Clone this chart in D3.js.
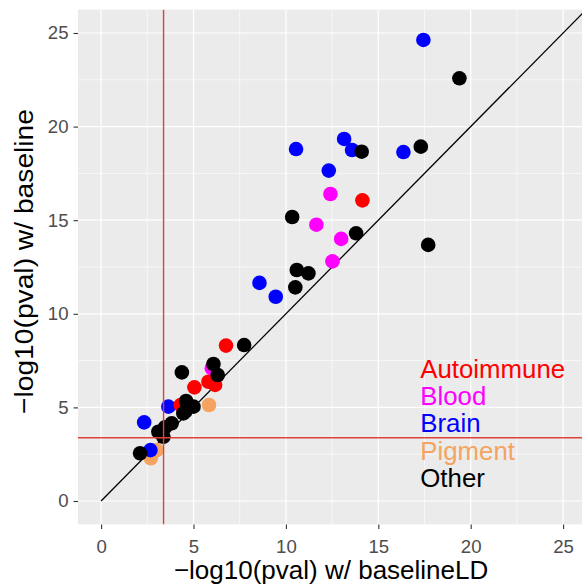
<!DOCTYPE html>
<html>
<head>
<meta charset="utf-8">
<script src="https://cdn.jsdelivr.net/npm/d3@7"></script>
<style>
  html, body { margin: 0; padding: 0; background: #ffffff; }
  svg { display: block; font-family: "Liberation Sans", Arial, Helvetica, sans-serif; }
</style>
</head>
<body>
<svg id="chart" width="582" height="586"></svg>
<script>
// ---- data ----
const groups = ["Autoimmune", "Blood", "Brain", "Pigment", "Other"];
const groupColors = ["#FF0000", "#FF00FF", "#0000FF", "#F4A460", "#000000"];
// drawing order
const drawOrder = ["Pigment", "Brain", "Autoimmune", "Blood", "Other"];

const autoimmuneX = [6.76, 5.81, 6.17, 5.05, 4.31, 14.14];
const autoimmuneY = [8.30, 6.37, 6.20, 6.07, 5.13, 16.06];

const bloodX = [5.99, 12.41, 11.65, 12.99, 12.52];
const bloodY = [7.09, 16.40, 14.76, 14.00, 12.80];

const brainX = [17.44, 13.15, 10.55, 13.58, 16.36, 12.32, 8.57, 9.45, 3.64, 2.33, 2.67];
const brainY = [24.63, 19.34, 18.80, 18.75, 18.64, 17.65, 11.65, 10.91, 5.04, 4.20, 2.72];

const pigmentX = [5.84, 2.69, 3.01];
const pigmentY = [5.13, 2.28, 2.72];

const otherX = [19.39, 17.30, 14.10, 10.34, 13.80, 17.70, 10.59, 11.22, 10.51, 7.74, 6.08, 4.37, 6.31, 4.60, 4.55, 5.00, 4.45, 3.82, 3.46, 3.10, 3.37, 2.11];
const otherY = [22.58, 18.93, 18.66, 15.17, 14.30, 13.68, 12.34, 12.16, 11.41, 8.33, 7.32, 6.87, 6.73, 5.34, 4.77, 5.04, 4.68, 4.15, 3.94, 3.70, 3.43, 2.55];

const seriesX = { Autoimmune: autoimmuneX, Blood: bloodX, Brain: brainX, Pigment: pigmentX, Other: otherX };
const seriesY = { Autoimmune: autoimmuneY, Blood: bloodY, Brain: brainY, Pigment: pigmentY, Other: otherY };

const majorTicks = [0, 5, 10, 15, 20, 25];
const minorTicks = [2.5, 7.5, 12.5, 17.5, 22.5];
const thresholdX = 3.38;
const thresholdY = 3.38;
const xDomain = [-1.25, 26.25];
const yDomain = [-1.25, 26.25];
const xTitle = "\u2212log10(pval) w/ baselineLD";
const yTitle = "\u2212log10(pval) w/ baseline";

// ---- layout ----
const svg = d3.select("#chart");
const panel = { left: 78, right: 586.2, top: 9.6, bottom: 524.4 };

const x = d3.scaleLinear().domain(xDomain).range([panel.left, panel.right]);
const y = d3.scaleLinear().domain(yDomain).range([panel.bottom, panel.top]);

svg.append("defs").append("clipPath").attr("id", "clip")
  .append("rect")
  .attr("x", panel.left).attr("y", panel.top)
  .attr("width", panel.right - panel.left).attr("height", panel.bottom - panel.top);

svg.append("rect")
  .attr("x", panel.left).attr("y", panel.top)
  .attr("width", panel.right - panel.left).attr("height", panel.bottom - panel.top)
  .attr("fill", "#EBEBEB");

const grid = svg.append("g").attr("clip-path", "url(#clip)");
// minor grid
grid.selectAll("line.vminor").data(minorTicks).join("line")
  .attr("x1", d => x(d)).attr("x2", d => x(d))
  .attr("y1", panel.top).attr("y2", panel.bottom)
  .attr("stroke", "#ffffff").attr("stroke-width", 0.6);
grid.selectAll("line.hminor").data(minorTicks).join("line")
  .attr("y1", d => y(d)).attr("y2", d => y(d))
  .attr("x1", panel.left).attr("x2", panel.right)
  .attr("stroke", "#ffffff").attr("stroke-width", 0.6);
// major grid
grid.selectAll("line.vmajor").data(majorTicks).join("line")
  .attr("x1", d => x(d)).attr("x2", d => x(d))
  .attr("y1", panel.top).attr("y2", panel.bottom)
  .attr("stroke", "#ffffff").attr("stroke-width", 1.2);
grid.selectAll("line.hmajor").data(majorTicks).join("line")
  .attr("y1", d => y(d)).attr("y2", d => y(d))
  .attr("x1", panel.left).attr("x2", panel.right)
  .attr("stroke", "#ffffff").attr("stroke-width", 1.2);

const plot = svg.append("g").attr("clip-path", "url(#clip)");

// diagonal y = x
plot.append("line")
  .attr("x1", x(0)).attr("y1", y(0))
  .attr("x2", x(xDomain[1])).attr("y2", y(xDomain[1]))
  .attr("stroke", "#000000").attr("stroke-width", 1.3);

// points
drawOrder.forEach(g => {
  const col = groupColors[groups.indexOf(g)];
  const pts = seriesX[g].map((v, i) => [v, seriesY[g][i]]);
  plot.append("g").selectAll("circle").data(pts).join("circle")
    .attr("cx", d => x(d[0])).attr("cy", d => y(d[1]))
    .attr("r", 7.3)
    .attr("fill", col);
});

// threshold lines
plot.append("line")
  .attr("x1", x(thresholdX)).attr("x2", x(thresholdX))
  .attr("y1", panel.top).attr("y2", panel.bottom)
  .attr("stroke", "#E0403A").attr("stroke-width", 1.4);
plot.append("line")
  .attr("x1", panel.left).attr("x2", panel.right)
  .attr("y1", y(thresholdY)).attr("y2", y(thresholdY))
  .attr("stroke", "#E0403A").attr("stroke-width", 1.4);

// legend-like annotation text
const legendX = 17.3;
const legendY0 = 7.0;
svg.append("g").selectAll("text").data(groups).join("text")
  .attr("x", x(legendX) - 0.5)
  .attr("y", (d, i) => y(legendY0) + 8 + i * 27.2)
  .attr("fill", (d, i) => groupColors[i])
  .attr("font-size", 25.8)
  .text(d => d);

// axes
const xAxis = d3.axisBottom(x).tickValues(majorTicks).tickSize(4.5).tickPadding(5).tickFormat(d3.format("d"));
const gx = svg.append("g").attr("transform", `translate(0,${panel.bottom})`).call(xAxis);
gx.select(".domain").remove();
gx.selectAll(".tick line").attr("stroke", "#333333").attr("stroke-width", 1.1);
gx.selectAll(".tick text").attr("fill", "#4D4D4D").attr("font-size", 18.6)
  .attr("font-family", "Liberation Sans, Arial, sans-serif")
  .attr("y", 28.3).attr("dy", null);

const yAxis = d3.axisLeft(y).tickValues(majorTicks).tickSize(4.5).tickPadding(5).tickFormat(d3.format("d"));
const gy = svg.append("g").attr("transform", `translate(${panel.left},0)`).call(yAxis);
gy.select(".domain").remove();
gy.selectAll(".tick line").attr("stroke", "#333333").attr("stroke-width", 1.1);
gy.selectAll(".tick text").attr("fill", "#4D4D4D").attr("font-size", 18.6)
  .attr("font-family", "Liberation Sans, Arial, sans-serif");

// titles
svg.append("text")
  .attr("x", (panel.left + panel.right) / 2 - 1)
  .attr("y", 579.3)
  .attr("text-anchor", "middle")
  .attr("font-size", 26)
  .attr("fill", "#000000")
  .text(xTitle);

svg.append("text")
  .attr("transform", `translate(33,${261.5}) rotate(-90)`)
  .attr("text-anchor", "middle")
  .attr("font-size", 26.5)
  .attr("textLength", 305)
  .attr("lengthAdjust", "spacingAndGlyphs")
  .attr("fill", "#000000")
  .text(yTitle);
</script>
</body>
</html>
